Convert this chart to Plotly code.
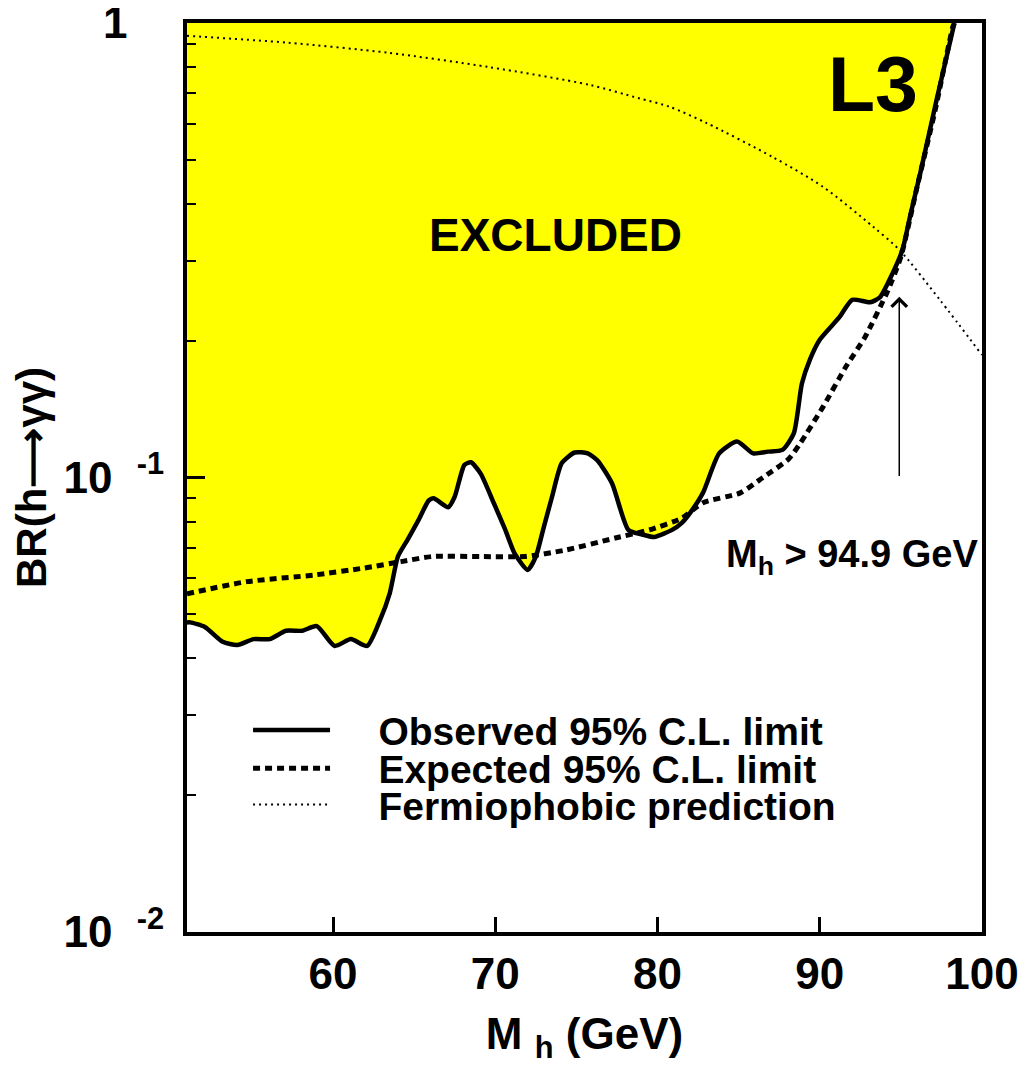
import math
import plotly.graph_objects as go

# ---------------- data ----------------
obs_mass = [51.0, 51.2, 52.1, 53.2, 54.1, 55.1, 56.1, 57.1, 58.1, 59.0, 60.1, 61.1, 62.1,
            62.9, 63.5, 64.0, 64.6, 65.3, 65.9, 66.2, 67.1, 67.5, 68.1, 68.5, 69.1, 69.9,
            70.6, 71.2, 72.0, 72.5, 73.0, 73.5, 74.1, 74.9, 75.7, 76.3, 77.2, 78.2, 79.0,
            79.8, 80.9, 81.5, 82.0, 82.8, 83.8, 84.9, 85.9, 86.8, 87.7, 88.4, 88.9, 89.4,
            90.0, 91.2, 92.0, 93.1, 93.7, 94.5, 95.1, 95.6, 96.2, 97.2, 98.3]
obs_br = [0.048, 0.048, 0.0469, 0.0435, 0.0428, 0.0441, 0.0441, 0.046, 0.046, 0.0471, 0.0426,
          0.0441, 0.0426, 0.0486, 0.0557, 0.067, 0.073, 0.081, 0.089, 0.090, 0.086, 0.0907,
          0.1066, 0.108, 0.102, 0.088, 0.077, 0.068, 0.0626, 0.067, 0.078, 0.0907, 0.1076,
          0.1135, 0.113, 0.109, 0.097, 0.0767, 0.075, 0.074, 0.0767, 0.0795, 0.0835, 0.0925,
          0.113, 0.120, 0.113, 0.114, 0.115, 0.125, 0.161, 0.182, 0.201, 0.225, 0.246, 0.243,
          0.249, 0.282, 0.317, 0.38, 0.468, 0.677, 1.0]

exp_mass = [51.0, 54.7, 58.8, 61.9, 64.2, 66.1, 69.1, 71.8, 74.3, 77.4, 79.5, 81.5, 82.8,
            85.1, 86.5, 88.1, 88.8, 90.2, 91.6, 92.8, 94.2, 95.0, 96.0, 97.1, 98.2, 98.3]
exp_br = [0.0555, 0.059, 0.061, 0.0632, 0.0653, 0.067, 0.067, 0.067, 0.0692, 0.0736, 0.0767,
          0.0814, 0.088, 0.0925, 0.100, 0.110, 0.119, 0.143, 0.175, 0.204, 0.258, 0.306,
          0.436, 0.64, 0.98, 1.0]

fp_mass = [51.0, 57.2, 63.4, 69.6, 75.8, 78.85, 80.7, 83.0, 87.1, 90.2, 93.3, 94.9, 97.4, 100.0]
fp_br = [0.937, 0.905, 0.86, 0.80, 0.731, 0.683, 0.655, 0.603, 0.507, 0.436, 0.356, 0.317,
         0.246, 0.186]

x_range = [51, 100]
x_ticks = [60, 70, 80, 90, 100]
y_ticks = [0.01, 0.1, 1]
y_tick_labels = ["10\u00a0\u00a0<sup>-2</sup>", "10\u00a0\u00a0<sup>-1</sup>",
                 "1\u00a0\u00a0\u00a0"]
y_minor = [k * 10.0 ** e for e in (-2, -1) for k in range(2, 10)]

mass_limit = 94.9
arrow_base = 0.1
arrow_tip = 0.25
br_max = 1.0

FONT = "Liberation Sans, Arial, Helvetica, sans-serif"
GAP = "\u00a0\u00a0\u00a0\u00a0"

fig = go.Figure()

# excluded (yellow) region above the observed limit
fig.add_trace(go.Scatter(
    x=obs_mass + [obs_mass[-1], obs_mass[0]],
    y=obs_br + [br_max, br_max],
    mode="lines", fill="toself", fillcolor="#FFFF00",
    line=dict(width=0), hoverinfo="skip", showlegend=False))

fig.add_trace(go.Scatter(
    x=fp_mass, y=fp_br, mode="lines", name=GAP + "Fermiophobic prediction",
    line=dict(color="black", width=2, dash="2px,4px", shape="spline", smoothing=0.8),
    legend="legend3"))

fig.add_trace(go.Scatter(
    x=exp_mass, y=exp_br, mode="lines", name=GAP + "Expected 95% C.L. limit",
    line=dict(color="black", width=5, dash="7px,5px", shape="spline", smoothing=0.6),
    legend="legend2"))

fig.add_trace(go.Scatter(
    x=obs_mass, y=obs_br, mode="lines", name=GAP + "Observed 95% C.L. limit",
    line=dict(color="black", width=4.5, shape="spline", smoothing=0.6),
    legend="legend"))

legend_common = dict(font=dict(family=FONT, size=39, color="black", weight="bold"),
                     bgcolor="rgba(0,0,0,0)", xanchor="left", yanchor="middle",
                     x=0.0768, itemwidth=77)

# page has an 8px body margin, so the figure is 8px smaller and offsets reduced by 8
fig.update_layout(
    width=1018, height=1067,
    margin=dict(l=179, r=44, t=15, b=143, autoexpand=False),
    paper_bgcolor="white", plot_bgcolor="white",
    font=dict(family=FONT, color="black"),
    legend=dict(**legend_common, y=0.222),
    legend2=dict(**legend_common, y=0.180),
    legend3=dict(**legend_common, y=0.140),
    xaxis=dict(
        range=x_range, showgrid=False, zeroline=False, automargin=False,
        showline=True, linecolor="black", linewidth=4, mirror=True,
        ticks="inside", ticklen=15, tickwidth=2.5, tickcolor="black",
        tickmode="array", tickvals=x_ticks, ticklabeloverflow="allow",
        tickfont=dict(family=FONT, size=44, color="black", weight="bold"),
        title=dict(text="M <sub>h</sub> (GeV)", standoff=22,
                   font=dict(family=FONT, size=44, color="black", weight="bold")),
    ),
    yaxis=dict(
        type="log", range=[-2, 0], showgrid=False, zeroline=False, automargin=False,
        showline=True, linecolor="black", linewidth=4, mirror=True,
        ticks="inside", ticklen=18, tickwidth=2.5, tickcolor="black",
        tickmode="array", tickvals=y_ticks, ticktext=y_tick_labels,
        ticklabelstandoff=10, ticklabeloverflow="allow",
        tickfont=dict(family=FONT, size=44, color="black", weight="bold"),
        minor=dict(ticks="inside", ticklen=9, tickwidth=2, tickcolor="black",
                   tickmode="array", tickvals=y_minor, showgrid=False),
        title=dict(text="BR(h\u27f6\u03b3\u03b3)", standoff=13,
                   font=dict(family=FONT, size=42, color="black", weight="bold")),
    ),
    annotations=[
        dict(x=73.7, y=math.log10(0.342), xref="x", yref="y", text="EXCLUDED",
             showarrow=False, font=dict(family=FONT, size=46, color="black", weight="bold")),
        dict(x=93.3, y=math.log10(0.735), xref="x", yref="y", text="L3",
             showarrow=False, font=dict(family=FONT, size=77, color="black", weight="bold")),
        dict(x=92.0, y=math.log10(0.067), xref="x", yref="y",
             text="M<sub>h</sub> &gt; 94.9 GeV",
             showarrow=False, font=dict(family=FONT, size=38, color="black", weight="bold")),
        dict(x=mass_limit, y=math.log10(arrow_tip), xref="x", yref="y",
             ax=mass_limit, ay=math.log10(arrow_base), axref="x", ayref="y",
             text="", showarrow=True, arrowhead=4, arrowsize=2, arrowwidth=1.5,
             arrowcolor="black", standoff=0, startstandoff=0),
    ],
)

fig.write_html("out.html")
